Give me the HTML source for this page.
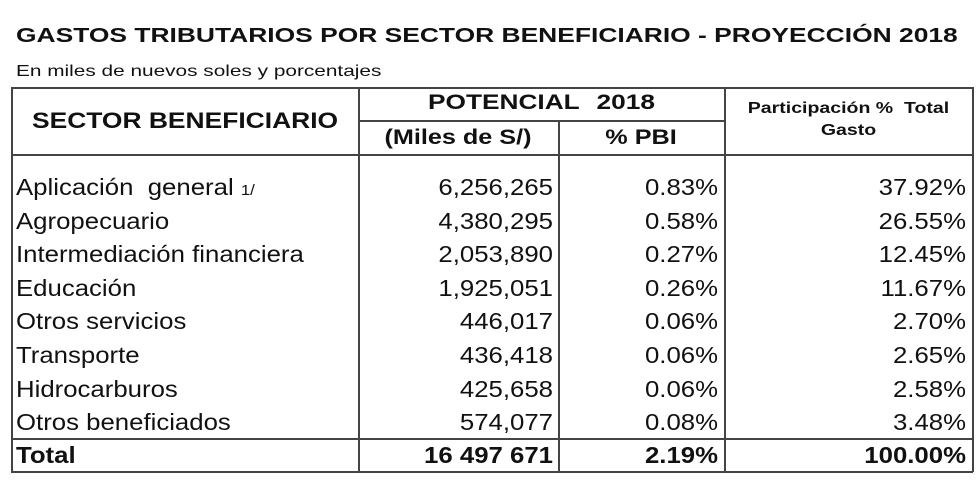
<!DOCTYPE html>
<html><head><meta charset="utf-8"><style>
body{margin:0;width:980px;height:483px;background:#fff;position:relative;overflow:hidden;font-family:"Liberation Sans",Arial,sans-serif;color:#111}
.a{position:absolute;white-space:nowrap}
.l{position:absolute;background:#444}
.r{text-align:right}
</style></head><body>
<div class="a" style="left:16px;top:25px;font-size:20px;font-weight:bold;transform:scaleX(1.32);transform-origin:left">GASTOS TRIBUTARIOS POR SECTOR BENEFICIARIO - PROYECCIÓN 2018</div>
<div class="a" style="left:16px;top:63px;font-size:16px;transform:scaleX(1.3);transform-origin:left">En miles de nuevos soles y porcentajes</div>
<div>
<div class="l" style="left:11px;top:87px;width:962px;height:1.5px"></div>
<div class="l" style="left:358px;top:120px;width:367px;height:1.5px"></div>
<div class="l" style="left:11px;top:154px;width:962px;height:1.5px"></div>
<div class="l" style="left:11px;top:438px;width:962px;height:1.5px"></div>
<div class="l" style="left:11px;top:471px;width:962px;height:1.5px"></div>
<div class="l" style="left:11px;top:87px;width:1.5px;height:385px"></div>
<div class="l" style="left:972px;top:87px;width:1.5px;height:385px"></div>
<div class="l" style="left:358px;top:87px;width:1.5px;height:385px"></div>
<div class="l" style="left:724px;top:87px;width:1.5px;height:385px"></div>
<div class="l" style="left:558px;top:120px;width:1.5px;height:352px"></div>
</div>
<div class="a" style="left:32px;top:108px;font-size:22px;font-weight:bold;transform:scaleX(1.2);transform-origin:left">SECTOR BENEFICIARIO</div>
<div class="a" style="left:358px;top:91px;width:367px;text-align:center;font-size:21px;font-weight:bold;word-spacing:8px;transform:scaleX(1.25)">POTENCIAL 2018</div>
<div class="a" style="left:358px;top:126px;width:200px;text-align:center;font-size:21px;font-weight:bold;transform:scaleX(1.2)">(Miles de S/)</div>
<div class="a" style="left:558px;top:126px;width:166px;text-align:center;font-size:21px;font-weight:bold;transform:scaleX(1.2)">% PBI</div>
<div class="a" style="left:724px;top:98px;width:249px;text-align:center;font-size:16px;font-weight:bold;line-height:22px;white-space:normal;transform:scaleX(1.22)">Participación %&nbsp; Total<br>Gasto</div>
<div id="rows"></div>
<script>
const sectors=["Aplicación&nbsp; general","Agropecuario","Intermediación financiera","Educación","Otros servicios","Transporte","Hidrocarburos","Otros beneficiados"];
const miles=["6,256,265","4,380,295","2,053,890","1,925,051","446,017","436,418","425,658","574,077"];
const pbi=["0.83%","0.58%","0.27%","0.26%","0.06%","0.06%","0.06%","0.08%"];
const part=["37.92%","26.55%","12.45%","11.67%","2.70%","2.65%","2.58%","3.48%"];
const total=["Total","16 497 671","2.19%","100.00%"];
const R=document.getElementById('rows');
function cell(txt,left,w,top,right,bold,name){
 const d=document.createElement('div');
 d.className='a'+(right?' r':'');
 d.style.cssText=`left:${left}px;width:${w}px;top:${top}px;font-size:23px;${bold?'font-weight:bold;':''}transform:scaleX(1.12);transform-origin:${right?'right':'left'};`;
 d.innerHTML=txt;
 
 
 R.appendChild(d);
}
sectors.forEach((s,i)=>{
 const y=174+i*33.6;
 cell(s+(i==0?' <span style="font-size:15px">1/</span>':''),16,300,y,false,false,'sector-label');
 cell(miles[i],360,193,y,true,false,'miles-value');
 cell(pbi[i],560,158,y,true,false,'pbi-value');
 cell(part[i],726,240,y,true,false,'participacion-value');
});
const ty=442;
cell(total[0],16,300,ty,false,true,'total-label');
cell(total[1],360,193,ty,true,true,'total-miles');
cell(total[2],560,158,ty,true,true,'total-pbi');
cell(total[3],726,240,ty,true,true,'total-participacion');
</script>
</body></html>
